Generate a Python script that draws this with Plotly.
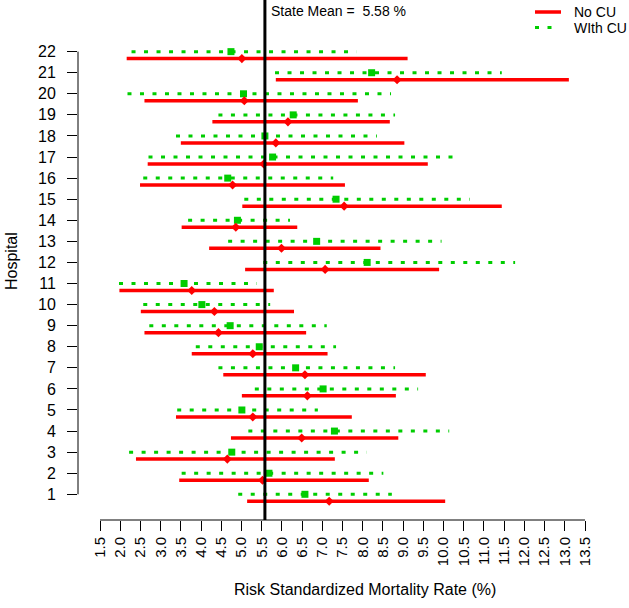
import plotly.graph_objects as go

# ---------------- data ----------------
hospitals = list(range(1, 23))

no_cu_est = [7.17, 5.52, 4.65, 6.49, 5.28, 6.63, 6.57, 5.28, 4.43, 4.33, 3.77,
             7.07, 5.99, 4.86, 7.54, 4.78, 5.55, 5.85, 6.15, 5.07, 8.85, 5.01]
no_cu_lo = [5.14, 3.46, 2.39, 4.74, 3.38, 5.01, 4.55, 3.77, 2.60, 2.51, 1.98,
            5.09, 4.20, 3.52, 5.02, 2.49, 2.68, 3.50, 4.28, 2.60, 5.85, 2.16]
no_cu_hi = [10.04, 8.15, 7.31, 8.88, 7.73, 8.82, 9.56, 7.13, 6.60, 6.30, 5.80,
            9.89, 8.44, 6.38, 11.44, 7.56, 9.61, 9.03, 8.67, 7.88, 13.10, 9.11]

with_cu_est = [6.57, 5.68, 4.76, 7.30, 5.01, 7.02, 6.34, 5.44, 4.72, 4.02, 3.58,
               8.11, 6.86, 4.90, 7.34, 4.66, 5.77, 5.58, 6.28, 5.05, 8.22, 4.74]
with_cu_lo = [4.92, 3.52, 2.22, 5.17, 3.41, 5.33, 4.43, 3.87, 2.72, 2.57, 1.97,
              5.54, 4.67, 3.68, 5.07, 2.57, 2.70, 3.38, 4.43, 2.18, 5.83, 2.28]
with_cu_hi = [8.72, 8.51, 8.10, 10.14, 6.89, 9.37, 8.80, 7.34, 7.11, 5.71, 5.38,
              11.77, 9.95, 6.20, 10.65, 7.27, 10.42, 8.35, 8.80, 8.70, 11.44, 7.85]

state_mean = 5.58
x_ticks = [1.5 + 0.5 * i for i in range(25)]
x_tick_labels = [f"{v:.1f}" for v in x_ticks]
series_names = ["No CU", "WIth CU"]

# ---------------- styling ----------------
RED = "#FF0000"
GREEN = "#00CD00"
FONT = "Arial, Liberation Sans, sans-serif"
DOT = "4px,8.5px"
offset = 0.33  # vertical offset of the No CU row below the With CU row

W, H = 629, 608
ML, MR, MT, MB = 78, 20, 0, 88
PW, PH = W - ML - MR, H - MT - MB


def px_x(p):
    return (p - ML) / PW


def px_y(p):
    return (H - MB - p) / PH


def segs(lo, hi, ys):
    xs, yy = [], []
    for a, b, y in zip(lo, hi, ys):
        xs += [a, b, None]
        yy += [y, y, None]
    return xs, yy


y_green = hospitals
y_red = [h - offset for h in hospitals]

fig = go.Figure()

gx, gy = segs(with_cu_lo, with_cu_hi, y_green)
fig.add_trace(go.Scatter(x=gx, y=gy, mode="lines", name=series_names[1],
                         line=dict(color=GREEN, width=3, dash=DOT),
                         hoverinfo="skip", showlegend=False))
rx, ry = segs(no_cu_lo, no_cu_hi, y_red)
fig.add_trace(go.Scatter(x=rx, y=ry, mode="lines", name=series_names[0],
                         line=dict(color=RED, width=3.5),
                         hoverinfo="skip", showlegend=False))
fig.add_trace(go.Scatter(x=with_cu_est, y=y_green, mode="markers", showlegend=False,
                         name=series_names[1],
                         marker=dict(symbol="square", size=7, color=GREEN,
                                     line=dict(width=0))))
fig.add_trace(go.Scatter(x=no_cu_est, y=y_red, mode="markers", showlegend=False,
                         name=series_names[0],
                         marker=dict(symbol="diamond", size=7, color=RED,
                                     line=dict(width=0))))

# state mean line
fig.add_shape(type="line", xref="x", yref="paper", x0=state_mean, x1=state_mean,
              y0=0, y1=1, line=dict(color="black", width=3), layer="above")
fig.add_annotation(x=state_mean, y=px_y(11), xref="x", yref="paper", xanchor="left",
                   yanchor="middle", xshift=4, showarrow=False,
                   text=f"State Mean =  {state_mean:.2f} %",
                   font=dict(size=14, color="black", family=FONT))

# R-style axis lines spanning only the tick range
fig.add_shape(type="line", xref="x", yref="paper", x0=x_ticks[0], x1=x_ticks[-1],
              y0=0, y1=0, line=dict(color="black", width=1))
fig.add_shape(type="line", xref="paper", yref="y", x0=0, x1=0,
              y0=hospitals[0], y1=hospitals[-1], line=dict(color="black", width=1))

# legend (drawn by hand, R style)
fig.add_shape(type="line", xref="paper", yref="paper", x0=px_x(535), x1=px_x(561),
              y0=px_y(12), y1=px_y(12), line=dict(color=RED, width=3.5))
fig.add_shape(type="line", xref="paper", yref="paper", x0=px_x(535), x1=px_x(553),
              y0=px_y(27.5), y1=px_y(27.5), line=dict(color=GREEN, width=3, dash=DOT))
for name, py in zip(series_names, [12, 27.5]):
    fig.add_annotation(x=px_x(572), y=px_y(py), xref="paper", yref="paper",
                       xanchor="left", yanchor="middle", showarrow=False, text=name,
                       font=dict(size=14, color="black", family=FONT))

# axis titles
fig.add_annotation(x=px_x(365), y=px_y(589), xref="paper", yref="paper",
                   xanchor="center", yanchor="middle", showarrow=False,
                   text="Risk Standardized Mortality Rate (%)",
                   font=dict(size=16, color="black", family=FONT))
fig.add_annotation(x=px_x(11), y=px_y(261), xref="paper", yref="paper",
                   xanchor="center", yanchor="middle", showarrow=False,
                   textangle=-90, text="Hospital",
                   font=dict(size=16, color="black", family=FONT))

fig.update_layout(
    width=W, height=H,
    margin=dict(l=ML, r=MR, t=MT, b=MB, autoexpand=False),
    paper_bgcolor="white", plot_bgcolor="white",
    font=dict(family=FONT, color="black"),
    showlegend=False,
    xaxis=dict(range=[0.9557, 14.093], tickmode="array", tickvals=x_ticks,
               ticktext=x_tick_labels, tickangle=-90, ticks="outside",
               ticklen=10, tickcolor="black", showline=False, showgrid=False,
               zeroline=False, tickfont=dict(size=15, family=FONT),
               automargin=False),
    yaxis=dict(range=[-0.219, 24.45], tickmode="array", tickvals=hospitals,
               ticks="outside", ticklen=10, tickcolor="black", showline=False,
               showgrid=False, zeroline=False, tickfont=dict(size=16, family=FONT),
               ticklabelstandoff=8, automargin=False),
)

fig.write_html("out.html",
               config={"displayModeBar": False},
               post_script="document.body.style.margin='0';"
                           "document.body.style.overflow='hidden';")
